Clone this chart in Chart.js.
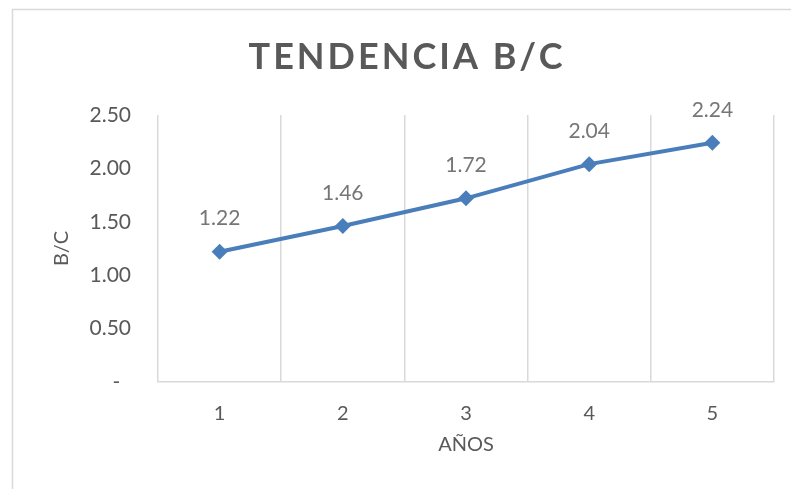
<!DOCTYPE html>
<html>
<head>
<meta charset="utf-8">
<script src="https://cdn.jsdelivr.net/npm/chart.js@4"></script>
<style>
  html, body { margin: 0; padding: 0; background: #fff; }
  #wrap { position: relative; width: 791px; height: 489px; }
</style>
</head>
<body>
<div id="wrap"><canvas id="chart"></canvas></div>
<script>
const chartTitle = "TENDENCIA B/C";
const years = ["1", "2", "3", "4", "5"];
const bcValues = [1.22, 1.46, 1.72, 2.04, 2.24];
const yMin = 0;
const yMax = 2.5;
const yStep = 0.5;

const TEXT = "#595959";
const LABEL = "#767676";
const GRID = "#d9d9d9";
const BLUE = "#4a7ebb";
const FONT = "Lato, 'Open Sans', sans-serif";

// light frame around the whole chart
const frame = {
  id: "frame",
  beforeDraw(chart) {
    const ctx = chart.ctx;
    ctx.save();
    ctx.strokeStyle = GRID;
    ctx.lineWidth = 1.5;
    ctx.strokeRect(12.5, 9.5, 900, 600);
    ctx.restore();
  },
};

// spaced-out bold title
const spacedTitle = {
  id: "spacedTitle",
  afterDraw(chart) {
    const ctx = chart.ctx;
    ctx.save();
    ctx.font = "bold 36px " + FONT;
    ctx.fillStyle = TEXT;
    ctx.textAlign = "center";
    ctx.textBaseline = "middle";
    ctx.letterSpacing = "3px";
    ctx.fillText(chartTitle, 407, 57);
    ctx.restore();
  },
};

// value above each point
const valueLabels = {
  id: "valueLabels",
  afterDatasetsDraw(chart) {
    const ctx = chart.ctx;
    const meta = chart.getDatasetMeta(0);
    ctx.save();
    ctx.font = "21px " + FONT;
    ctx.fillStyle = LABEL;
    ctx.textAlign = "center";
    ctx.textBaseline = "middle";
    meta.data.forEach((pt, i) => {
      ctx.fillText(bcValues[i].toFixed(2), pt.x, pt.y - 33);
    });
    ctx.restore();
  },
};

new Chart(document.getElementById("chart"), {
  type: "line",
  data: {
    labels: years,
    datasets: [{
      data: bcValues,
      borderColor: BLUE,
      backgroundColor: BLUE,
      borderWidth: 4,
      pointStyle: "rectRot",
      pointRadius: 8,
      pointHoverRadius: 8,
      pointBorderWidth: 0,
      tension: 0,
    }],
  },
  options: {
    responsive: true,
    maintainAspectRatio: false,
    animation: false,
    layout: { padding: { top: 115, right: 17, left: 0, bottom: 0 } },
    plugins: {
      legend: { display: false },
      tooltip: { enabled: false },
      title: { display: false },
    },
    scales: {
      x: {
        offset: true,
        grid: { offset: true, color: GRID, lineWidth: 1.5, drawTicks: false },
        border: { color: GRID, width: 1.5 },
        ticks: { color: TEXT, font: { family: FONT, size: 20 }, padding: 20 },
        title: {
          display: true, text: "AÑOS", color: TEXT,
          font: { family: FONT, size: 20 }, padding: { top: 32, bottom: 32 },
        },
        afterFit(scale) { scale.height = 107; },
      },
      y: {
        min: yMin,
        max: yMax,
        grid: { display: false, drawTicks: false },
        border: { display: false },
        ticks: {
          stepSize: yStep,
          color: TEXT,
          font: { family: FONT, size: 21 },
          padding: 27,
          callback: (v) => (v === 0 ? "-  " : v.toFixed(2)),
        },
        title: {
          display: true, text: "B/C", color: TEXT,
          font: { family: FONT, size: 20 }, padding: { top: 50, bottom: 50 },
        },
        afterFit(scale) { scale.width = 158; },
      },
    },
  },
  plugins: [frame, spacedTitle, valueLabels],
});
</script>
</body>
</html>
